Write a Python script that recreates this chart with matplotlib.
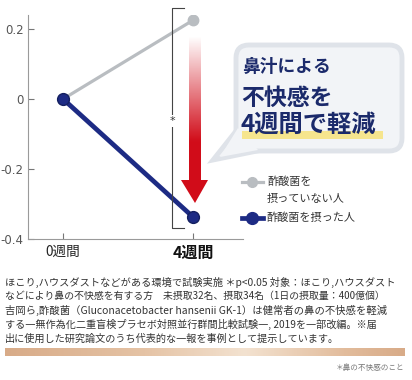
import numpy as np
import matplotlib
matplotlib.use("Agg")
import matplotlib.pyplot as plt
from matplotlib.patches import FancyBboxPatch, Polygon, Rectangle
from matplotlib.colors import LinearSegmentedColormap

plt.rcParams['font.family'] = ['Noto Sans CJK JP', 'DejaVu Sans']

# ---- data ----
weeks = ['0週間', '4週間']
x_pos = [0, 1]
not_taken = [0.0, 0.225]     # 酢酸菌を摂っていない人
taken = [0.0, -0.337]        # 酢酸菌を摂った人
ytick_vals = [0.2, 0.0, -0.2, -0.4]
ytick_labels = ['0.2', '0', '-0.2', '-0.4']
legend_labels = ['酢酸菌を\n摂っていない人', '酢酸菌を摂った人']
headline = ['鼻汁による', '不快感を', '4週間で軽減']
footnote = [
    'ほこり,ハウスダストなどがある環境で試験実施 ＊p<0.05 対象：ほこり,ハウスダスト',
    'などにより鼻の不快感を有する方　未摂取32名、摂取34名（1日の摂取量：400億個）',
    '吉岡ら,酢酸菌（Gluconacetobacter hansenii GK-1）は健常者の鼻の不快感を軽減',
    'する一無作為化二重盲検プラセボ対照並行群間比較試験一, 2019を一部改編。※届',
    '出に使用した研究論文のうち代表的な一報を事例として提示しています。',
]
foot_sizes = [7.35, 7.1, 7.45, 7.3, 7.3]
note = '＊鼻の不快感のこと'

GRAY = '#b9bdc1'
NAVY = '#1d2b84'
TEXT_NAVY = '#1b2a6b'

W, H = 412, 380
fig = plt.figure(figsize=(W / 100, H / 100), dpi=100)
fig.patch.set_facecolor('white')

# ---- main axes ----
ax = fig.add_axes([28 / W, 1 - 239 / H, (243 - 28) / W, (239 - 15) / H])
ax.set_xlim(-0.27, 1.385)
ax.set_ylim(-0.4, 0.24)
ax.plot(x_pos, not_taken, color=GRAY, lw=2.3, marker='o', ms=7.5,
        mfc=GRAY, mec=GRAY, solid_capstyle='round', zorder=3)
ax.plot(x_pos, taken, color=NAVY, lw=3.4, marker='o', ms=8.5,
        mfc=NAVY, mec='#142060', solid_capstyle='round', zorder=4)
for s in ['top', 'right']:
    ax.spines[s].set_visible(False)
for s in ['left', 'bottom']:
    ax.spines[s].set_color('#9a9a9a')
    ax.spines[s].set_linewidth(0.8)
ax.set_yticks(ytick_vals)
ax.set_yticklabels(ytick_labels, fontsize=8.5, color='#555555', family=['DejaVu Sans'])
ax.set_xticks(x_pos)
ax.set_xticklabels(weeks)
ax.tick_params(axis='both', direction='in', length=4, width=0.8, color='#777777')
ax.tick_params(axis='x', pad=4)
ax.tick_params(axis='y', pad=3)
lbls = ax.get_xticklabels()
lbls[0].set_fontsize(9.8); lbls[0].set_color('#222222')
lbls[1].set_fontsize(11.5); lbls[1].set_fontweight('bold'); lbls[1].set_color('#111111')

# ---- overlay (pixel coordinates) ----
ov = fig.add_axes([0, 0, 1, 1])
ov.set_xlim(0, W)
ov.set_ylim(H, 0)
ov.axis('off')
ov.patch.set_alpha(0)

# significance bracket
ov.plot([184, 172, 172, 184], [8, 8, 228, 228], color='#444444', lw=0.8)
ov.text(172, 121, '*', ha='center', va='center', fontsize=8, color='#333333',
        family=['DejaVu Sans'], bbox=dict(fc='white', ec='none', pad=0.5))

# gradient red arrow
arrow_poly = Polygon([(189, 37), (201, 37), (201, 180), (208, 180), (195, 203),
                      (181, 180), (189, 180)], closed=True, fc='none', ec='none')
ov.add_patch(arrow_poly)
grad = np.zeros((200, 2, 4))
t = np.linspace(0, 1, 200)[:, None]
grad[..., 0] = 0.82
grad[..., 1] = 0.05
grad[..., 2] = 0.10
grad[..., 3] = np.clip(t * 1.6, 0, 1)
im = ov.imshow(grad, extent=[180, 209, 204, 36], aspect='auto', zorder=5,
               interpolation='bilinear')
im.set_clip_path(arrow_poly)

# speech bubble
ov.add_patch(Polygon([(240, 126), (262, 150), (213, 160)], closed=True,
                     fc='#f2f4f7', ec='#dfe3e9', lw=3.5, zorder=2))
bub = FancyBboxPatch((236, 45), 166, 106, boxstyle='round,pad=0,rounding_size=13',
                     fc='#f2f4f7', ec='#dfe3e9', lw=3.5, zorder=2)
ov.add_patch(bub)
ov.add_patch(Polygon([(238, 128), (258, 150), (220, 157)], closed=True,
                     fc='#f2f4f7', ec='none', zorder=3))
ov.add_patch(Rectangle((242, 131), 141, 8, fc='#f7e37c', ec='none', alpha=0.85, zorder=3))
ov.text(242, 67, headline[0], fontsize=12.8, fontweight='bold', color=TEXT_NAVY,
        ha='left', va='center', zorder=4)
ov.text(241, 98, headline[1], fontsize=16.5, fontweight='bold', color=TEXT_NAVY,
        ha='left', va='center', zorder=4)
ov.text(241, 125, headline[2], fontsize=17.5, fontweight='bold', color=TEXT_NAVY,
        ha='left', va='center', zorder=4)

# legend
ov.plot([242, 263], [182, 182], color=GRAY, lw=2.3)
ov.plot([252.5], [182], marker='o', ms=7, color=GRAY)
ov.text(267, 182, legend_labels[0].split('\n')[0], fontsize=8, color='#333333',
        ha='left', va='center')
ov.text(267, 199, legend_labels[0].split('\n')[1], fontsize=8, color='#333333',
        ha='left', va='center')
ov.plot([242, 263], [218, 218], color=NAVY, lw=3.4)
ov.plot([252.5], [218], marker='o', ms=8.5, color=NAVY)
ov.text(266, 218, legend_labels[1], fontsize=8, color='#333333',
        ha='left', va='center')

# footnote
for i, line in enumerate(footnote):
    ov.text(5, 282 + i * 14.3, line, fontsize=foot_sizes[i], color='#333333',
            ha='left', va='center')

# gradient bar
bar_cmap = LinearSegmentedColormap.from_list(
    'tan', [(0, '#d8ab88'), (0.35, '#e5c3a5'), (0.6, '#f3e2d0'), (0.85, '#e2bc9c'), (1, '#d8ab88')])
ov.imshow(np.linspace(0, 1, 256)[None, :], cmap=bar_cmap, extent=[5, 405, 356, 348],
          aspect='auto', zorder=2)
ov.text(404, 368, note, fontsize=5.5, color='#777777', ha='right', va='center')

ov.set_xlim(0, W)
ov.set_ylim(H, 0)

fig.savefig('out.png', dpi=100)
